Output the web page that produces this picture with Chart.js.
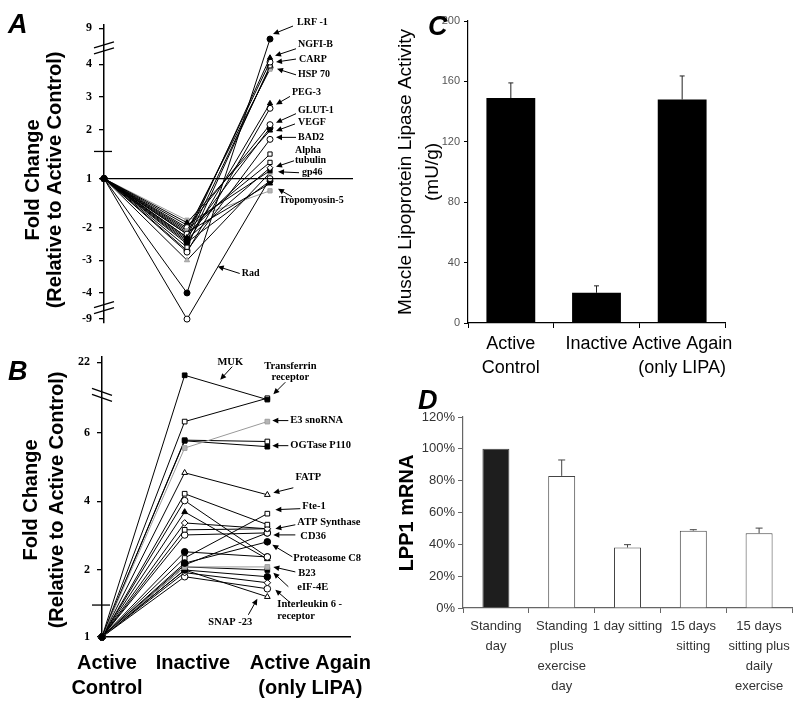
<!DOCTYPE html>
<html>
<head>
<meta charset="utf-8">
<script src="https://cdn.jsdelivr.net/npm/chart.js@4.4.1/dist/chart.umd.min.js"></script>
<style>
  body { margin:0; background:#fff; width:800px; height:706px; position:relative; overflow:hidden; }
  .panel { position:absolute; }
</style>
</head>
<body>
<div class="panel" style="left:0;top:0"><canvas id="chartA" width="400" height="340"></canvas></div>
<div class="panel" style="left:0;top:340px"><canvas id="chartB" width="400" height="366"></canvas></div>
<div class="panel" style="left:390px;top:0"><canvas id="chartC" width="410" height="385"></canvas></div>
<div class="panel" style="left:390px;top:385px"><canvas id="chartD" width="410" height="321"></canvas></div>
<script>
// ---- data ----
// A: fold change (relative to active control), active control = 1
const aGenes       = ['LRF -1','NGFI-B','CARP','HSP 70','','','PEG-3','','GLUT-1','VEGF','','BAD2','','','Alpha tubulin','gp46','','Rad','','Tropomyosin-5',''];
const aInactive    = [-4.0,-2.3,-2.2,-2.6,-2.1,-2.4,-2.5,-2.75,-2.0,-2.3,-1.9,-2.7,-2.2,-2.05,-2.35,-1.95,-3.0,-9.0,-2.15,-1.85,-2.45];
const aActiveAgain = [7.5,4.9,4.3,3.95,3.85,3.9,2.8,2.65,2.15,2.05,1.98,1.8,1.5,1.33,1.22,1.16,1.12,1.0,-1.1,-1.25,-1.05];
const aTicks = [9,4,3,2,1,-2,-3,-4,-9];

// B: fold change, up-regulated genes
const bGenes       = ['MUK','Transferrin receptor','E3 snoRNA','OGTase P110','','FATP','','','','','ATP Synthase','CD36','Proteasome C8','Fte-1','','B23','','eIF-4E','','Interleukin 6 - receptor','SNAP -23',''];
const bInactive    = [21.1,6.32,5.55,5.76,5.78,4.83,4.22,4.02,3.69,3.37,3.17,3.02,2.2,2.35,2.53,2.09,2.09,2.0,1.96,1.9,2.0,2.15];
const bActiveAgain = [6.96,7.0,6.32,5.59,5.74,4.19,3.32,2.38,2.32,3.2,3.2,3.08,2.82,3.64,2.38,2.09,2.0,1.9,1.81,1.72,1.6,3.08];
const bTicks = [22,6,4,2,1];
const lineGroups = [['Active','Control'],'Inactive',['Active Again','(only LIPA)']];

// C: muscle LPL activity (mU/g)
const cCats   = [['Active','Control'],'Inactive',['Active Again','(only LIPA)']];
const cValues = [149,20,148];
const cErrors = [10,4.6,15.6];

// D: LPP1 mRNA (% of standing day)
const dCats   = [['Standing','day'],['Standing','plus','exercise','day'],'1 day sitting',['15 days','sitting'],['15 days','sitting plus','daily','exercise']];
const dValues = [100,83,38,48.6,47];
const dErrors = [0,10,1.8,0.6,3.2];

// ---- fonts / helpers ----
const SANS = '"Liberation Sans", Arial, sans-serif';
const SERIF = '"Liberation Serif", "Times New Roman", serif';

// broken fold-change axes -> linear axis units
function tA(v){
  if(v>=4) return 5+(v-4)*0.22;
  if(v>=2) return v+1;
  if(v>=1) return 1.5+(v-1)*1.5;
  if(v>=-2) return (v+2)*1.5;
  if(v>=-4) return v+2;
  return -2+(v+4)*0.16;
}
function tB(v){
  if(v<=2) return (v-1)*1.95;
  if(v<=8) return 1.95+(v-2);
  return 7.15+(v-20)*0.425;
}

// marker code: [f]illed/[o]pen/[g]rey + [c]ircle/[s]quare/[t]riangle/[d]iamond
const aMarks = ['fc','ft','oc','os','gs','fc','ft','oc','oc','fc','ft','oc','os','os','od','fs','gt','oc','ft','gs','fc'];
const aGrey = [19];
const bMarks = ['fs','os','gs','fs','os','ot','os','oc','ft','od','os','oc','fc','os','fc','gs','fs','fc','od','oc','ot','fc'];
const bGrey = [2,15];

function marker(code){
  return {
    pointStyle: {c:'circle',s:'rect',t:'triangle',d:'rectRot'}[code[1]],
    pointBackgroundColor: {f:'#000',o:'#fff',g:'#b4b4b4'}[code[0]],
    pointBorderColor: code[0]==='g' ? '#a0a0a0' : '#000'
  };
}

function lineSets(inact, again, marks, grey, t, r){
  return inact.map((v,i)=>Object.assign({
    data:[{x:0,y:t(1)},{x:1,y:t(v)},{x:2,y:t(again[i])}],
    borderColor: grey.includes(i) ? '#999' : '#000',
    borderWidth:1, pointRadius:r, pointBorderWidth:1, clip:false
  }, marker(marks[i])));
}

function arrow(ctx, x0, y0, x1, y1){
  const a = Math.atan2(y1-y0, x1-x0), L = 6, W = 2.8;
  ctx.beginPath(); ctx.moveTo(x0,y0); ctx.lineTo(x1-Math.cos(a)*L*0.8, y1-Math.sin(a)*L*0.8); ctx.stroke();
  ctx.beginPath();
  ctx.moveTo(x1,y1);
  ctx.lineTo(x1-Math.cos(a)*L+Math.sin(a)*W, y1-Math.sin(a)*L-Math.cos(a)*W);
  ctx.lineTo(x1-Math.cos(a)*L-Math.sin(a)*W, y1-Math.sin(a)*L+Math.cos(a)*W);
  ctx.closePath(); ctx.fill();
}

// decorations: texts, axis breaks, gene labels with arrows, error bars
const decor = {
  id:'decor',
  afterDraw(chart, args, o){
    const ctx = chart.ctx, xs = chart.scales.x, ys = chart.scales.y;
    ctx.save();
    ctx.strokeStyle = '#000'; ctx.fillStyle = '#000'; ctx.lineWidth = 1;
    const ax = chart.chartArea.left;
    (o.breaks||[]).forEach(b=>{
      const y = ys.getPixelForValue(b.u);
      ctx.lineWidth = 1.3;
      [-3,3].forEach(d=>{ ctx.beginPath(); ctx.moveTo(ax-10, y+d+b.s); ctx.lineTo(ax+10, y+d-b.s); ctx.stroke(); });
    });
    (o.marks||[]).forEach(u=>{
      const y = ys.getPixelForValue(u);
      ctx.lineWidth = 1.3;
      ctx.beginPath(); ctx.moveTo(ax-10,y); ctx.lineTo(ax+8,y); ctx.stroke();
    });
    if(o.errors){
      const meta = chart.getDatasetMeta(0);
      ctx.strokeStyle = o.errColor; ctx.lineWidth = 1;
      o.errors.forEach((e,i)=>{
        if(!e) return;
        const bar = meta.data[i];
        const yt = ys.getPixelForValue(o.values[i]+e);
        ctx.beginPath(); ctx.moveTo(bar.x, bar.y); ctx.lineTo(bar.x, yt);
        ctx.moveTo(bar.x-o.cap, yt); ctx.lineTo(bar.x+o.cap, yt); ctx.stroke();
      });
    }
    if(o.notes){
      ctx.font = o.noteFont; ctx.textBaseline = 'middle';
      ctx.lineWidth = 1; ctx.strokeStyle = '#000';
      o.notes.forEach(n=>{
        const tx = xs.getPixelForValue(n.x)+n.tip[0];
        const ty = ys.getPixelForValue(o.t(n.v))+n.tip[1];
        arrow(ctx, tx+n.tail[0], ty+n.tail[1], tx, ty);
        ctx.textAlign = n.align||'left';
        n.lines.forEach((s,k)=>ctx.fillText(s, tx+n.txt[0], ty+n.txt[1]+k*(n.lh||11)));
      });
    }
    (o.texts||[]).forEach(t=>{
      ctx.save();
      ctx.font = t.font; ctx.fillStyle = t.color||'#000';
      ctx.textAlign = t.align||'center'; ctx.textBaseline = t.base||'middle';
      ctx.translate(t.x, t.y); if(t.rot) ctx.rotate(t.rot);
      ctx.fillText(t.text, 0, 0);
      ctx.restore();
    });
    ctx.restore();
  }
};
Chart.register(decor);

const TITLE = 'bold 20px '+SANS;
const LETTER = 'italic bold 27px '+SANS;

function foldOpts(c){
  return {
    responsive:false, animation:false, events:[],
    layout:{padding:c.pad},
    plugins:{legend:{display:false}, tooltip:{enabled:false}, decor:c.decor},
    scales:{
      x:Object.assign({type:'linear', min:0, max:3}, c.x),
      y:{
        type:'linear', min:c.min, max:c.max,
        afterFit:s=>{ s.width = c.yW; },
        afterBuildTicks:s=>{ s.ticks = c.ticks.map(v=>({value:c.t(v)})); },
        ticks:{ callback:(v,i)=>String(c.ticks[i]), font:{family:SERIF, weight:'bold', size:12}, color:'#000', padding:7 },
        grid:{ display:true, drawOnChartArea:false, tickLength:5, color:'#000', lineWidth:1.3 },
        border:{ display:true, color:'#000', width:1.5 }
      }
    }
  };
}

// ---- panel A ----
const aLevel = {data:[{x:0,y:tA(1)},{x:3,y:tA(1)}], borderColor:'#000', borderWidth:1.2, pointRadius:0, clip:false};
new Chart(document.getElementById('chartA'), {
  type:'line',
  data:{ datasets:[aLevel].concat(lineSets(aInactive, aActiveAgain, aMarks, aGrey, tA, 3)) },
  options: foldOpts({
    pad:{top:25, right:47, bottom:17, left:0}, yW:104, min:-2.92, max:6.2, ticks:aTicks, t:tA,
    x:{display:false},
    decor:{
      t:tA, noteFont:'bold 10px '+SERIF,
      breaks:[{u:5.5,s:3},{u:-2.45,s:3}], marks:[2.33],
      notes:[
        {lines:['LRF -1'], x:2, v:7.5, tip:[3,-5], tail:[20,-8], txt:[24,-12]},
        {lines:['NGFI-B'], x:2, v:4.9, tip:[5,-2], tail:[21,-7], txt:[23,-11]},
        {lines:['CARP'], x:2, v:4.3, tip:[6,0], tail:[20,-3], txt:[23,-3]},
        {lines:['HSP 70'], x:2, v:3.95, tip:[7,3], tail:[19,6], txt:[21,6]},
        {lines:['PEG-3'], x:2, v:2.8, tip:[6,1], tail:[14,-8], txt:[16,-12]},
        {lines:['GLUT-1'], x:2, v:2.15, tip:[6,-2], tail:[20,-9], txt:[22,-12]},
        {lines:['VEGF'], x:2, v:2.05, tip:[6,3], tail:[19,-7], txt:[22,-9]},
        {lines:['BAD2'], x:2, v:1.8, tip:[6,-2], tail:[20,0], txt:[22,0]},
        {lines:['Alpha','tubulin'], x:2, v:1.22, tip:[6,-1], tail:[18,-6], txt:[19,-16], lh:10},
        {lines:['gp46'], x:2, v:1.16, tip:[8,1], tail:[21,1], txt:[24,1]},
        {lines:['Tropomyosin-5'], x:2, v:-1.25, tip:[8,-2], tail:[14,8], txt:[1,12]},
        {lines:['Rad'], x:1.37, v:-3.19, tip:[0,0], tail:[22,7], txt:[24,7]}
      ],
      texts:[
        {text:'A', x:8, y:33, font:LETTER, align:'left', base:'alphabetic'},
        {text:'Fold Change', x:33, y:180, rot:-Math.PI/2, font:TITLE},
        {text:'(Relative to Active Control)', x:55, y:180, rot:-Math.PI/2, font:TITLE}
      ]
    }
  })
});

// ---- panel B ----
const bXPos = [0.06, 1.1, 2.52];
new Chart(document.getElementById('chartB'), {
  type:'line',
  data:{ datasets: lineSets(bInactive, bActiveAgain, bMarks, bGrey, tB, 3.3) },
  options: foldOpts({
    pad:{top:17, right:50, bottom:0, left:0}, yW:102, min:0, max:8.15, ticks:bTicks, t:tB,
    x:{
      afterFit:s=>{ s.height = 69; },
      afterBuildTicks:s=>{ s.ticks = bXPos.map(v=>({value:v})); },
      ticks:{ callback:(v,i)=>lineGroups[i], font:{family:SANS, weight:'bold', size:20, lineHeight:1.25}, color:'#000', padding:6, maxRotation:0, autoSkip:false },
      grid:{ display:false },
      border:{ display:true, color:'#000', width:1.5 }
    },
    decor:{
      t:tB, noteFont:'bold 10.5px '+SERIF,
      breaks:[{u:7.05,s:-3.5}], marks:[0.93],
      notes:[
        {lines:['MUK'], x:1.43, v:20.8, tip:[0,0], tail:[12,-13], txt:[10,-17], align:'center'},
        {lines:['Transferrin','receptor'], x:2, v:7.0, tip:[6,-4], tail:[12,-12], txt:[17,-28], align:'center', lh:11},
        {lines:['E3 snoRNA'], x:2, v:6.32, tip:[5,-1], tail:[16,0], txt:[18,0]},
        {lines:['OGTase P110'], x:2, v:5.59, tip:[5,-1], tail:[16,0], txt:[18,0]},
        {lines:['FATP'], x:2, v:4.19, tip:[6,-2], tail:[20,-5], txt:[35,-15], align:'center'},
        {lines:['Fte-1'], x:2, v:3.64, tip:[8,-4], tail:[25,-1], txt:[27,-3]},
        {lines:['ATP Synthase'], x:2, v:3.2, tip:[8,0], tail:[20,-4], txt:[22,-6]},
        {lines:['CD36'], x:2, v:3.08, tip:[6,2], tail:[22,0], txt:[27,1]},
        {lines:['Proteasome C8'], x:2, v:2.82, tip:[5,3], tail:[20,12], txt:[21,13]},
        {lines:['B23'], x:2, v:2.09, tip:[6,0], tail:[22,5], txt:[25,6]},
        {lines:['eIF-4E'], x:2, v:1.9, tip:[6,-4], tail:[15,14], txt:[24,15]},
        {lines:['Interleukin 6 -','receptor'], x:2, v:1.72, tip:[8,1], tail:[15,13], txt:[2,15], lh:12},
        {lines:['SNAP -23'], x:2, v:1.6, tip:[-10,2], tail:[-9,16], txt:[-27,23], align:'center'}
      ],
      texts:[
        {text:'B', x:8, y:40, font:LETTER, align:'left', base:'alphabetic'},
        {text:'Fold Change', x:31, y:160, rot:-Math.PI/2, font:TITLE},
        {text:'(Relative to Active Control)', x:57, y:160, rot:-Math.PI/2, font:TITLE}
      ]
    }
  })
});

// ---- panel C ----
new Chart(document.getElementById('chartC'), {
  type:'bar',
  data:{ labels:cCats, datasets:[{ data:cValues, backgroundColor:'#000', barPercentage:0.57, categoryPercentage:1 }] },
  options:{
    responsive:false, animation:false, events:[],
    layout:{padding:{top:21, right:75, left:0, bottom:0}},
    plugins:{ legend:{display:false}, tooltip:{enabled:false},
      decor:{
        values:cValues, errors:cErrors, cap:2.5, errColor:'#222',
        texts:[
          {text:'C', x:38, y:35, font:LETTER, align:'left', base:'alphabetic'},
          {text:'Muscle Lipoprotein Lipase Activity', x:16, y:172, rot:-Math.PI/2, font:'19px '+SANS},
          {text:'(mU/g)', x:43, y:172, rot:-Math.PI/2, font:'19px '+SANS}
        ]
      }
    },
    scales:{
      x:{
        afterFit:s=>{ s.height = 62; },
        ticks:{ font:{family:SANS, size:18, lineHeight:1.35}, color:'#000', padding:4, maxRotation:0, autoSkip:false },
        grid:{ display:true, drawOnChartArea:false, offset:true, tickLength:5, color:'#000' },
        border:{ display:true, color:'#000', width:1.2 }
      },
      y:{
        min:0, max:200,
        afterFit:s=>{ s.width = 78; },
        ticks:{ stepSize:40, font:{family:SANS, size:11}, color:'#555', padding:4 },
        grid:{ display:true, drawOnChartArea:false, tickLength:4, color:'#000' },
        border:{ display:true, color:'#000', width:1.2 }
      }
    }
  }
});

// ---- panel D ----
new Chart(document.getElementById('chartD'), {
  type:'bar',
  data:{ labels:dCats, datasets:[{ data:dValues, backgroundColor:['#1e1e1e','#fff','#fff','#fff','#fff'], borderColor:'#444', borderWidth:1, barPercentage:0.41, categoryPercentage:1 }] },
  options:{
    responsive:false, animation:false, events:[],
    layout:{padding:{top:32, right:8, left:0, bottom:0}},
    plugins:{ legend:{display:false}, tooltip:{enabled:false},
      decor:{
        values:dValues, errors:dErrors, cap:3.5, errColor:'#444',
        texts:[
          {text:'D', x:28, y:24, font:LETTER, align:'left', base:'alphabetic'},
          {text:'LPP1 mRNA', x:17, y:128, rot:-Math.PI/2, font:TITLE}
        ]
      }
    },
    scales:{
      x:{
        afterFit:s=>{ s.height = 98; },
        ticks:{ font:{family:SANS, size:13, lineHeight:1.54}, color:'#333', padding:3, maxRotation:0, autoSkip:false },
        grid:{ display:true, drawOnChartArea:false, offset:true, tickLength:5, color:'#666' },
        border:{ display:true, color:'#666', width:1.2 }
      },
      y:{
        min:0, max:120,
        afterFit:s=>{ s.width = 73; },
        ticks:{ stepSize:20, callback:v=>v+'%', font:{family:SANS, size:13}, color:'#333', padding:3 },
        grid:{ display:true, drawOnChartArea:false, tickLength:5, color:'#666' },
        border:{ display:true, color:'#666', width:1.2 }
      }
    }
  }
});
</script>
</body>
</html>
